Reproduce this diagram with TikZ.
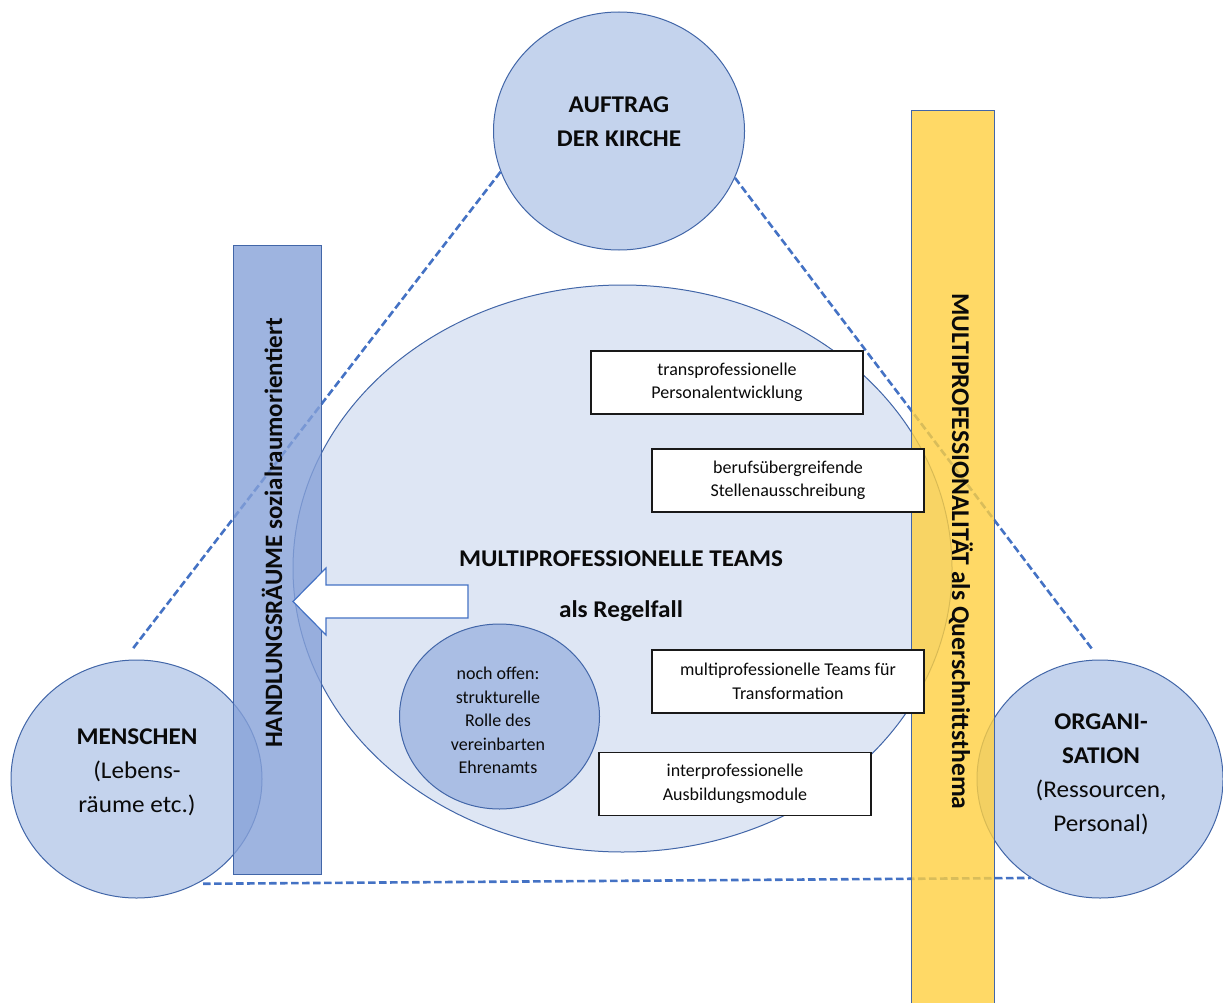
\documentclass[tikz,border=0pt]{standalone}
\usepackage{fontspec}
\setmainfont{Carlito}
\newfontfamily\widefont{Carlito}[FakeStretch=1.05]
\usetikzlibrary{shapes.geometric}

\definecolor{ringfill}{RGB}{196,211,237}
\definecolor{ringline}{RGB}{66,102,168}
\definecolor{fieldfill}{RGB}{222,230,244}
\definecolor{openfill}{RGB}{170,190,228}
\definecolor{leftbar}{RGB}{134,161,216}
\definecolor{goldbar}{RGB}{255,208,64}
\definecolor{linkblue}{RGB}{68,114,196}
\definecolor{boxline}{RGB}{25,25,25}
\definecolor{inktext}{RGB}{10,10,10}

\begin{document}
\begin{tikzpicture}[x=1pt, y=-1pt,
  bigtxt/.style={font=\widefont\fontsize{24}{34}\selectfont, align=center, inner sep=0pt, text=inktext},
  bigbold/.style={bigtxt, font=\widefont\fontsize{24}{34}\selectfont\bfseries},
  smalltxt/.style={font=\fontsize{18}{23.5}\selectfont, align=center, inner sep=0pt, text=inktext},
  topic/.style={ellipse, draw=ringline, line width=1pt, fill=ringfill, inner sep=0pt},
  pillar/.style={rectangle, draw=ringline, line width=1pt, inner sep=0pt},
  infobox/.style={rectangle, draw=boxline, line width=1.5pt, fill=white,
    minimum width=272pt, minimum height=63pt, inner sep=0pt, smalltxt},
  link/.style={draw=linkblue, line width=2.6pt, dash pattern=on 7.5pt off 3.5pt},
  bartext/.style={font=\bfseries, inner sep=0pt, text=inktext}
]
\useasboundingbox (0,0) rectangle (1223,1003);

% central field with the open question
\node[topic, fill=fieldfill, minimum width=659pt, minimum height=567pt] (field) at (622.5,568.5) {};
\node[topic, fill=openfill, minimum width=200pt, minimum height=185pt] (open) at (499.5,716.5) {};

% the three corner topics
\node[topic, minimum width=251pt, minimum height=238pt] (auftrag) at (619,131) {};
\node[topic, minimum width=251pt, minimum height=238pt] (menschen) at (136.5,779) {};
\node[topic, minimum width=246pt, minimum height=238pt] (orga) at (1100,779) {};

% dashed triangle between the corner topics
\draw[link, shorten >=13pt] (auftrag.199) -- (menschen.96);
\draw[link, shorten >=12.5pt] (auftrag.338) -- (orga.90);
\draw[link, shorten <=6pt] (menschen.300) -- (orga.235);

% translucent vertical bars
\node[pillar, fill=leftbar, fill opacity=0.8, minimum width=88pt, minimum height=629pt] (raeume) at (277,559.5) {};
\node[pillar, fill=goldbar, fill opacity=0.8, minimum width=83pt, minimum height=905pt] (quer) at (952.5,563.5) {};

\node[bartext, font=\fontsize{25}{30}\selectfont\bfseries, rotate=90] (raeumetext) at (272,533) {HANDLUNGSRÄUME sozialraumorientiert};
\node[bartext, font=\fontsize{25.6}{30}\selectfont\bfseries, rotate=-90] (quertext) at (961,551.5) {MULTIPROFESSIONALITÄT als Querschnittsthema};

% block arrow from the teams towards the action spaces
\filldraw[fill=white, draw=linkblue, line width=1.2pt]
  (468,585) -- (326,585) -- (326,568) -- (293,601.5) -- (326,635) -- (326,618) -- (468,618) -- cycle;

% measures
\node[infobox] (b1) at (727,382.5) {transprofessionelle\\Personalentwicklung};
\node[infobox] (b2) at (788,480.5) {berufsübergreifende\\Stellenausschreibung};
\node[infobox] (b3) at (788,681.5) {multiprofessionelle Teams für\\Transformation};
\node[infobox] (b4) at (735,784) {interprofessionelle\\Ausbildungsmodule};

% labels
\node[bigbold] (auftragtext) at (619,121.5) {AUFTRAG\\DER KIRCHE};
\node[bigtxt] (menschentext) at (137,772.5) {\textbf{MENSCHEN}\\(Lebens-\\räume etc.)};
\node[bigtxt] (orgatext) at (1101,774) {\textbf{ORGANI-}\\\textbf{SATION}\\(Ressourcen,\\Personal)};
\node[bigbold] (teams) at (621,559) {MULTIPROFESSIONELLE TEAMS};
\node[bigbold] (regelfall) at (621,611) {als Regelfall};
\node[smalltxt] (opentext) at (498,720.5) {noch offen:\\strukturelle\\Rolle des\\vereinbarten\\Ehrenamts};
\end{tikzpicture}
\end{document}
